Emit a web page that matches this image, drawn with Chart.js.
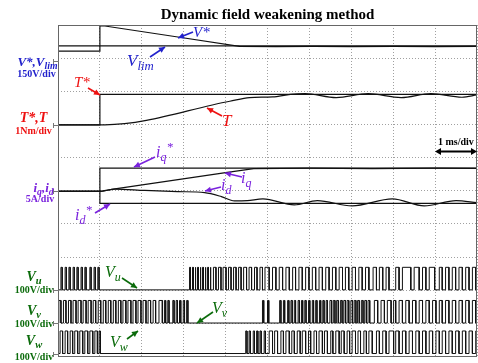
<!DOCTYPE html>
<html><head><meta charset="utf-8">
<script src="https://cdn.jsdelivr.net/npm/chart.js@4/dist/chart.umd.min.js"></script>
<style>
html,body{margin:0;padding:0;background:#fff;}
#wrap{position:relative;width:478px;height:363px;overflow:hidden;background:#fff;}
#c{position:absolute;left:0;top:0;}
.lab{position:absolute;font-family:'Liberation Serif','Times New Roman',serif;white-space:nowrap;line-height:1;}
.c{transform:translateX(-50%);}
.b{font-weight:bold;}
.i{font-style:italic;}
.sub{font-size:75%;position:relative;top:0.35em;}
.sup{font-size:80%;position:relative;top:-0.45em;}
.blue{color:#2222cc;} .red{color:#ee1111;} .pur{color:#7a22dd;} .grn{color:#0b6b0b;} .blk{color:#000;}
</style>
</head><body>
<div id="wrap">
<canvas id="c" width="478" height="363"></canvas>
<!-- channel labels -->
<div class="lab c b i blue" style="left:37.5px;top:54.5px;font-size:13px">V*,V<span class="sub">lim</span></div>
<div class="lab c b blue" style="left:36.5px;top:68.5px;font-size:10px">150V/div</div>
<div class="lab c b i red" style="left:33.5px;top:110.5px;font-size:14px">T*,T</div>
<div class="lab c b red" style="left:33.5px;top:126px;font-size:10px">1Nm/div</div>
<div class="lab c b i pur" style="left:43.5px;top:181px;font-size:13px">i<span class="sub">q</span>,i<span class="sub">d</span></div>
<div class="lab c b pur" style="left:40px;top:193.5px;font-size:10px">5A/div</div>
<div class="lab c b i grn" style="left:34px;top:269.5px;font-size:14px">V<span class="sub">u</span></div>
<div class="lab c b grn" style="left:34px;top:284.5px;font-size:10px">100V/div</div>
<div class="lab c b i grn" style="left:34px;top:303.5px;font-size:14px">V<span class="sub">v</span></div>
<div class="lab c b grn" style="left:34px;top:318.5px;font-size:10px">100V/div</div>
<div class="lab c b i grn" style="left:34px;top:333.5px;font-size:14px">V<span class="sub">w</span></div>
<div class="lab c b grn" style="left:34px;top:351.5px;font-size:10px">100V/div</div>
<!-- annotations -->
<div class="lab i blue" style="left:193px;top:24.5px;font-size:15px">V*</div>
<div class="lab i blue" style="left:127px;top:52px;font-size:17px">V<span class="sub">lim</span></div>
<div class="lab i red" style="left:74px;top:74.5px;font-size:15px">T*</div>
<div class="lab i red" style="left:222px;top:112px;font-size:17px">T</div>
<div class="lab i pur" style="left:156px;top:143.5px;font-size:16px">i<span class="sub">q</span><span class="sup">*</span></div>
<div class="lab i pur" style="left:241px;top:169.5px;font-size:16px">i<span class="sub">q</span></div>
<div class="lab i pur" style="left:221px;top:176.5px;font-size:16px">i<span class="sub">d</span></div>
<div class="lab i pur" style="left:75px;top:206.5px;font-size:16px">i<span class="sub">d</span><span class="sup">*</span></div>
<div class="lab i grn" style="left:105px;top:264px;font-size:16px">V<span class="sub">u</span></div>
<div class="lab i grn" style="left:212px;top:300px;font-size:16px">V<span class="sub">v</span></div>
<div class="lab i grn" style="left:110px;top:334px;font-size:16px">V<span class="sub">w</span></div>
<div class="lab b blk" style="left:438px;top:136.5px;font-size:10px">1 ms/div</div>
</div>
<script>
// ---- time axis: ms (1 ms/div, 10 divisions) ----
// V* and Vlim (V, 150 V/div)
const vStarT = [0, 1.0, 1.0, 1.12, 2.9, 4.33, 5.2, 6.1, 7.0, 8.0, 9.0, 10];
const vStar  = [45, 45, 160, 159, 108, 67, 66, 67, 66, 67, 66, 67];
const vLimT  = [0, 10];
const vLim   = [69, 69];
// T* and T (Nm, 1 Nm/div)
const tStarT = [0, 1.0, 1.0, 10];
const tStar  = [0.02, 0.02, 0.935, 0.935];
const torqT  = [0, 1.0, 1.12, 4.1, 4.57, 5.12, 5.55, 5.9, 6.64, 7.4, 8.19, 8.9, 9.64, 10];
const torq   = [0.02, 0.02, 0.02, 0.73, 0.84, 0.86, 0.94, 0.96, 0.84, 0.96, 0.84, 0.96, 0.85, 0.92];
// currents (A, 5 A/div)
const iqStarT = [0, 1.0, 1.0, 10];
const iqStar  = [0, 0, 3.5, 3.5];
const idStarT = [0, 1.0, 1.0, 10];
const idStar  = [0, 0, -1.8, -1.8];
const iqT = [0, 1.0, 1.36, 4.0, 4.67, 6.0, 7.5, 9.0, 10];
const iq  = [0, 0, 0.38, 2.83, 3.45, 3.5, 3.45, 3.5, 3.48];
const idT = [0, 1.0, 1.36, 2.07, 2.86, 3.5, 3.9, 4.21, 4.52, 4.89, 5.64, 6.19, 7.02, 7.98, 8.74, 9.5, 10];
const id  = [0, 0, 0.36, 0.15, -0.03, -0.18, -0.78, -1.44, -1.39, -1.13, -2.04, -1.39, -2.19, -1.13, -2.19, -1.39, -1.69];
// phase voltages (V, 100 V/div): switching edge times in ms, starting low
const pwmLevel = 68;
const uEdges = [
 0.07,0.10, 0.17,0.20, 0.26,0.29, 0.36,0.39, 0.45,0.48, 0.55,0.58, 0.64,0.67, 0.76,0.79, 0.86,0.89, 0.95,0.98,
 3.14,3.16, 3.21,3.23, 3.27,3.29, 3.33,3.35, 3.39,3.41, 3.45,3.47, 3.51,3.53, 3.57,3.59, 3.63,3.65,
 3.71,3.77, 3.83,3.89, 3.94,4.01, 4.07,4.13, 4.19,4.25, 4.31,4.37, 4.43,4.50, 4.56,4.62, 4.69,4.75, 4.82,4.88, 4.94,5.04,
 5.12,5.20, 5.28,5.36, 5.44,5.52, 5.60,5.67, 5.75,5.83, 5.91,5.99, 6.07,6.15, 6.23,6.31, 6.39,6.47, 6.55,6.63,
 6.71,6.79, 6.86,6.94, 7.02,7.10, 7.18,7.26, 7.34,7.42, 7.52,7.60, 7.67,7.75, 7.83,7.90, 8.06,8.14, 8.22,8.42,
 8.50,8.62, 8.70,8.78, 8.86,8.99, 9.10,9.17, 9.25,9.33, 9.41,9.49, 9.57,9.65, 9.73,9.81, 9.89,9.97
];
const vEdges = [
 0.02,0.07, 0.13,0.19, 0.25,0.31, 0.36,0.43, 0.48,0.55, 0.60,0.67, 0.72,0.79, 0.84,0.90, 0.96,1.02,
 1.08,1.14, 1.20,1.26, 1.32,1.38, 1.44,1.50, 1.55,1.62, 1.67,1.74, 1.79,1.86, 1.91,1.98, 2.03,2.10,
 2.15,2.21, 2.27,2.33, 2.41,2.49,
 2.54,2.57, 2.62,2.65, 2.74,2.77, 2.82,2.85, 2.90,2.93, 2.99,3.02, 3.07,3.10,
 4.88,4.91, 5.00,5.03, 5.29,5.32, 5.38,5.41, 5.48,5.51, 5.56,5.59, 5.64,5.67, 5.73,5.76, 5.81,5.84,
 5.89,5.92, 5.98,6.01, 6.07,6.10, 6.15,6.18, 6.24,6.27, 6.32,6.35, 6.40,6.43, 6.49,6.53, 6.57,6.61,
 6.65,6.69, 6.74,6.78, 6.82,6.86, 6.90,6.94, 6.99,7.03, 7.07,7.11, 7.15,7.19, 7.24,7.28, 7.32,7.36, 7.40,7.44,
 7.55,7.63, 7.71,7.79, 7.86,7.95, 8.01,8.06, 8.14,8.22, 8.30,8.38, 8.46,8.54, 8.62,8.70, 8.78,8.86,
 8.94,9.02, 9.10,9.17, 9.25,9.33, 9.41,9.49, 9.57,9.65, 9.73,9.81, 9.89,9.97
];
const wEdges = [
 0.05,0.11, 0.17,0.23, 0.29,0.35, 0.40,0.47, 0.52,0.59, 0.64,0.71, 0.76,0.83, 0.88,0.94, 0.98,1.01,
 4.48,4.51, 4.56,4.59, 4.66,4.69, 4.74,4.77, 4.82,4.85, 4.92,4.95,
 5.04,5.12, 5.17,5.24, 5.32,5.38, 5.44,5.52, 5.58,5.64, 5.71,5.78, 5.83,5.91, 5.98,6.03, 6.11,6.17,
 6.23,6.31, 6.36,6.43, 6.51,6.56, 6.63,6.71, 6.76,6.83, 6.90,6.96, 7.02,7.10, 7.16,7.22, 7.30,7.36,
 7.42,7.50, 7.60,7.67, 7.75,7.83, 7.90,8.01, 8.06,8.14, 8.22,8.30, 8.38,8.46, 8.54,8.62, 8.70,8.78,
 8.86,8.94, 9.02,9.10, 9.17,9.25, 9.33,9.41, 9.49,9.57, 9.65,9.73, 9.81,9.89, 9.97
];

// ---- channel placement (divisions from bottom) and units/div ----
const OFF = {v: 8.91, t: 6.97, i: 4.98, u: 2.01, vv: 1.01, w: 0.09};
const PER_DIV = {v: 150, t: 1, i: 5, pwm: 100};

function trace(ts, vals, off, sc) { return ts.map((t, k) => ({x: t, y: off + vals[k] / sc})); }
function pwm(edges, off) {
  const lo = off, hi = off + pwmLevel / PER_DIV.pwm;
  const pts = [{x: 0, y: lo}];
  let h = false;
  for (const e of edges) { pts.push({x: e, y: h ? hi : lo}); h = !h; pts.push({x: e, y: h ? hi : lo}); }
  pts.push({x: 10, y: h ? hi : lo});
  return pts;
}
const base = {borderColor: '#111', borderWidth: 1.2, pointRadius: 0, fill: false, tension: 0};
const datasets = [
  Object.assign({label: 'Vlim', data: trace(vLimT, vLim, OFF.v, PER_DIV.v)}, base),
  Object.assign({label: 'V*', data: trace(vStarT, vStar, OFF.v, PER_DIV.v)}, base),
  Object.assign({label: 'T*', data: trace(tStarT, tStar, OFF.t, PER_DIV.t)}, base),
  Object.assign({}, base, {label: 'T', data: trace(torqT, torq, OFF.t, PER_DIV.t), cubicInterpolationMode: 'monotone'}),
  Object.assign({label: 'iq*', data: trace(iqStarT, iqStar, OFF.i, PER_DIV.i)}, base),
  Object.assign({label: 'id*', data: trace(idStarT, idStar, OFF.i, PER_DIV.i)}, base),
  Object.assign({label: 'iq', data: trace(iqT, iq, OFF.i, PER_DIV.i)}, base),
  Object.assign({}, base, {label: 'id', data: trace(idT, id, OFF.i, PER_DIV.i), cubicInterpolationMode: 'monotone'}),
  Object.assign({}, base, {label: 'Vu', data: pwm(uEdges, OFF.u), borderWidth: 1}),
  Object.assign({}, base, {label: 'Vv', data: pwm(vEdges, OFF.vv), borderWidth: 1}),
  Object.assign({}, base, {label: 'Vw', data: pwm(wEdges, OFF.w), borderWidth: 1})
];

const arrows = [
  {c: '#2222cc', a: [193, 32, 178, 38]},
  {c: '#2222cc', a: [150, 57, 165, 47]},
  {c: '#ee1111', a: [88, 88, 100, 95]},
  {c: '#ee1111', a: [222, 116, 207, 108]},
  {c: '#7a22dd', a: [155, 157, 134, 167]},
  {c: '#7a22dd', a: [242, 177, 225, 173]},
  {c: '#7a22dd', a: [221, 187, 205, 191]},
  {c: '#7a22dd', a: [95, 213, 110, 204]},
  {c: '#0b6b0b', a: [122, 278, 137, 288]},
  {c: '#0b6b0b', a: [213, 312, 197, 323]},
  {c: '#0b6b0b', a: [127, 339, 138, 331]}
];
function head(ctx, x1, y1, x2, y2, L, W) {
  const ang = Math.atan2(y2 - y1, x2 - x1);
  ctx.beginPath();
  ctx.moveTo(x2, y2);
  ctx.lineTo(x2 - L * Math.cos(ang) + W * Math.sin(ang), y2 - L * Math.sin(ang) - W * Math.cos(ang));
  ctx.lineTo(x2 - L * Math.cos(ang) - W * Math.sin(ang), y2 - L * Math.sin(ang) + W * Math.cos(ang));
  ctx.closePath(); ctx.fill();
}
const decor = {
  id: 'decor',
  afterDraw(chart) {
    const ctx = chart.ctx, a = chart.chartArea;
    ctx.save();
    ctx.strokeStyle = '#666'; ctx.lineWidth = 1; ctx.setLineDash([]);
    ctx.strokeRect(Math.round(a.left) + 0.5, Math.round(a.top) + 0.5, Math.round(a.right - a.left) - 1, Math.round(a.bottom - a.top) - 1);
    // channel ground markers
    const ys = chart.scales.y;
    ctx.strokeStyle = '#777';
    for (const k of ['v', 't', 'i', 'u', 'vv', 'w']) {
      const y = Math.round(ys.getPixelForValue(OFF[k])) + 0.5;
      ctx.beginPath(); ctx.moveTo(a.left - 5, y); ctx.lineTo(a.left + 1, y);
      ctx.moveTo(a.left - 4.5, y - 2.5); ctx.lineTo(a.left - 4.5, y + 2.5); ctx.stroke();
    }
    // annotation arrows
    for (const ar of arrows) {
      const [x1, y1, x2, y2] = ar.a;
      ctx.strokeStyle = ar.c; ctx.fillStyle = ar.c; ctx.lineWidth = 1.6;
      ctx.beginPath(); ctx.moveTo(x1, y1); ctx.lineTo(x2, y2); ctx.stroke();
      head(ctx, x1, y1, x2, y2, 6, 3);
    }
    // 1 ms/div double arrow
    ctx.strokeStyle = '#000'; ctx.fillStyle = '#000'; ctx.lineWidth = 2;
    ctx.beginPath(); ctx.moveTo(440, 151.5); ctx.lineTo(473, 151.5); ctx.stroke();
    head(ctx, 450, 151.5, 477, 151.5, 6, 3.5);
    head(ctx, 460, 151.5, 435, 151.5, 6, 3.5);
    ctx.restore();
  }
};

new Chart(document.getElementById('c'), {
  type: 'line',
  data: {datasets},
  options: {
    responsive: false, animation: false, devicePixelRatio: 1,
    layout: {padding: {left: 58, right: 1, top: 0, bottom: 6.5}},
    plugins: {
      legend: {display: false}, tooltip: {enabled: false},
      title: {display: true, text: 'Dynamic field weakening method', color: '#000',
        font: {family: "'Liberation Serif', 'Times New Roman', serif", size: 15, weight: 'bold'},
        padding: {top: 6, bottom: 1}}
    },
    scales: {
      x: {type: 'linear', min: 0, max: 10,
          ticks: {display: false, stepSize: 1},
          grid: {color: '#a0a0a0', lineWidth: 1, drawTicks: false},
          border: {display: false, dash: [1, 2]}},
      y: {type: 'linear', min: 0, max: 10,
          ticks: {display: false, stepSize: 1},
          grid: {color: '#a0a0a0', lineWidth: 1, drawTicks: false},
          border: {display: false, dash: [1, 2]}}
    }
  },
  plugins: [decor]
});
</script>
</body></html>
